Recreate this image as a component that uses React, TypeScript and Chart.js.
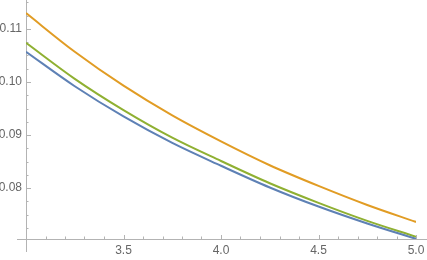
import React, { useEffect, useRef } from "react";
import { Chart, registerables } from "chart.js";

Chart.register(...registerables);

const xValues = [3.0, 3.25, 3.5, 3.75, 4.0, 4.25, 4.5, 4.75, 5.0];
const blueSeries = [0.1057, 0.0992, 0.0935, 0.0885, 0.0842, 0.0801, 0.0765, 0.0733, 0.0704];
const orangeSeries = [0.113, 0.1057, 0.0993, 0.0937, 0.0888, 0.0843, 0.0804, 0.0768, 0.0736];
const greenSeries = [0.1074, 0.1006, 0.0947, 0.0895, 0.0851, 0.0809, 0.0772, 0.0738, 0.0708];

const xMajorTicks = [3.5, 4.0, 4.5, 5.0];
const xMinorTicks = [3.1, 3.2, 3.3, 3.4, 3.6, 3.7, 3.8, 3.9, 4.1, 4.2, 4.3, 4.4, 4.6, 4.7, 4.8, 4.9];
const yMajorTicks = [0.08, 0.09, 0.1, 0.11];
const yMinorTicks = [0.0725, 0.075, 0.0775, 0.0825, 0.085, 0.0875, 0.0925, 0.095, 0.0975, 0.1025, 0.105, 0.1075, 0.1125, 0.115];

const X_MIN = 3.0;
const X_MAX = 5.0;
const Y_MIN = 0.07038;
const Y_MAX = 0.11547;

const AXIS_COLOR = "#b3b3b3";
const LABEL_COLOR = "#666666";
const FONT = { family: "'Liberation Sans', Arial, sans-serif", size: 12 };

const axesPlugin = {
  id: "mmaAxes",
  beforeDatasetsDraw(chart: any) {
    const ctx = chart.ctx;
    const xs = chart.scales.x;
    const ys = chart.scales.y;
    const x0 = xs.getPixelForValue(X_MIN);
    const y0 = ys.getPixelForValue(Y_MIN);
    ctx.save();
    ctx.strokeStyle = AXIS_COLOR;
    ctx.lineWidth = 1;
    ctx.beginPath();
    ctx.moveTo(x0 - 9, Math.round(y0) + 0.5);
    ctx.lineTo(chart.width, Math.round(y0) + 0.5);
    ctx.moveTo(Math.round(x0) + 0.5, 0);
    ctx.lineTo(Math.round(x0) + 0.5, y0 + 13);
    xMajorTicks.forEach((v) => {
      const p = Math.round(xs.getPixelForValue(v)) + 0.5;
      ctx.moveTo(p, y0);
      ctx.lineTo(p, y0 - 4);
    });
    xMinorTicks.forEach((v) => {
      const p = Math.round(xs.getPixelForValue(v)) + 0.5;
      ctx.moveTo(p, y0);
      ctx.lineTo(p, y0 - 2.5);
    });
    yMajorTicks.forEach((v) => {
      const p = Math.round(ys.getPixelForValue(v)) + 0.5;
      ctx.moveTo(x0, p);
      ctx.lineTo(x0 + 5, p);
    });
    yMinorTicks.forEach((v) => {
      const p = Math.round(ys.getPixelForValue(v)) + 0.5;
      ctx.moveTo(x0, p);
      ctx.lineTo(x0 + 2.5, p);
    });
    ctx.stroke();
    ctx.restore();
  },
};

function toPoints(ys: number[]) {
  return xValues.map((x, i) => ({ x, y: ys[i] }));
}

export default function App() {
  const canvasRef = useRef<HTMLCanvasElement | null>(null);

  useEffect(() => {
    document.body.style.margin = "0";
    const canvas = canvasRef.current;
    if (!canvas) return;
    const lineDs = (data: number[], color: string) => ({
      data: toPoints(data),
      borderColor: color,
      backgroundColor: color,
      borderWidth: 2,
      pointRadius: 0,
      cubicInterpolationMode: "monotone" as const,
      fill: false,
    });
    const chart = new Chart(canvas, {
      type: "line",
      data: {
        datasets: [
          lineDs(blueSeries, "#5e81b5"),
          lineDs(orangeSeries, "#e19c24"),
          lineDs(greenSeries, "#8fb032"),
        ],
      },
      options: {
        animation: false,
        responsive: false,
        maintainAspectRatio: false,
        layout: { padding: { left: 0, right: 11, top: 0, bottom: 0 } },
        plugins: { legend: { display: false }, tooltip: { enabled: false } },
        scales: {
          x: {
            type: "linear",
            min: X_MIN,
            max: X_MAX,
            afterFit: (s: any) => {
              s.height = 21;
              s.paddingLeft = 0;
              s.paddingRight = 0;
            },
            afterBuildTicks: (s: any) => {
              s.ticks = xMajorTicks.map((v) => ({ value: v }));
            },
            grid: { display: false, drawTicks: false },
            border: { display: false },
            ticks: {
              padding: 4,
              color: LABEL_COLOR,
              font: FONT,
              maxRotation: 0,
              autoSkip: false,
              callback: (v: any) => Number(v).toFixed(1),
            },
          },
          y: {
            type: "linear",
            min: Y_MIN,
            max: Y_MAX,
            afterFit: (s: any) => {
              s.width = 26;
              s.paddingTop = 0;
              s.paddingBottom = 0;
            },
            afterBuildTicks: (s: any) => {
              s.ticks = yMajorTicks.map((v) => ({ value: v }));
            },
            grid: { display: false, drawTicks: false },
            border: { display: false },
            ticks: {
              padding: 4,
              color: LABEL_COLOR,
              font: FONT,
              autoSkip: false,
              callback: (v: any) => Number(v).toFixed(2),
            },
          },
        },
      },
      plugins: [axesPlugin],
    });
    return () => chart.destroy();
  }, []);

  return (
    <div style={{ width: 427, height: 260, position: "relative" }}>
      <canvas ref={canvasRef} width={427} height={260} />
    </div>
  );
}
